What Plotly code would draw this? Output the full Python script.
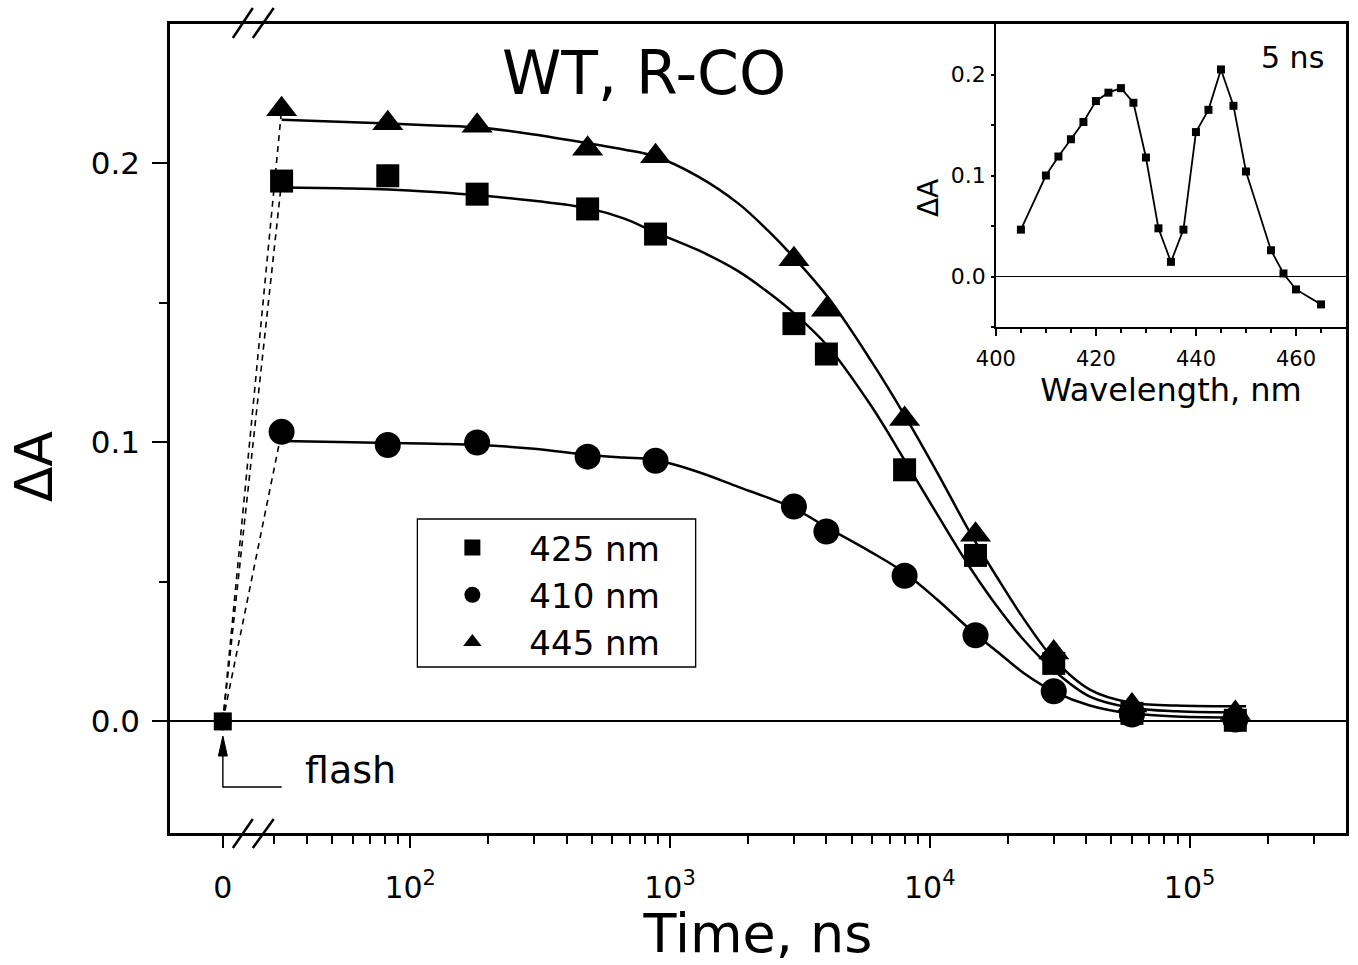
import math
import plotly.graph_objects as go

# ---------------- data ----------------
time_ns = [0, 32, 82, 181, 482, 880, 3000, 4000, 8000, 15000, 30000, 60000, 150000]
dA_425 = [0.0, 0.1937, 0.1956, 0.1890, 0.1837, 0.1747, 0.1426, 0.1317, 0.0902, 0.0595, 0.0208, 0.0029, 0.0004]
dA_410 = [0.0, 0.1038, 0.0991, 0.1000, 0.0949, 0.0934, 0.0770, 0.0681, 0.0522, 0.0309, 0.0108, 0.0025, 0.0007]
dA_445 = [0.0, 0.2194, 0.2144, 0.2135, 0.2053, 0.2026, 0.1657, 0.1476, 0.1084, 0.0669, 0.0247, 0.0057, 0.0030]

fit_time_ns = [32, 53, 83, 124, 184, 300, 486, 663, 880, 1285, 1830, 2380, 2970, 4050, 5920,
               7990, 10700, 14300, 18200, 23100, 30100, 41300, 58800, 89100, 165000]
fit_425 = [0.1914, 0.1911, 0.1907, 0.1898, 0.1886, 0.1866, 0.1839, 0.1803, 0.1753, 0.1689,
           0.1614, 0.1539, 0.1467, 0.1345, 0.1134, 0.0937, 0.0741, 0.0551, 0.0411, 0.0290,
           0.0182, 0.0089, 0.0050, 0.0036, 0.0032]
fit_410 = [0.1005, 0.1002, 0.0998, 0.0995, 0.0991, 0.0977, 0.0955, 0.0946, 0.0937, 0.0894,
           0.0841, 0.0802, 0.0766, 0.0694, 0.0608, 0.0533, 0.0436, 0.0329, 0.0250, 0.0172,
           0.0107, 0.0057, 0.0029, 0.0018, 0.0014]
fit_445 = [0.2157, 0.2150, 0.2143, 0.2136, 0.2129, 0.2104, 0.2072, 0.2050, 0.2025, 0.1953,
           0.1857, 0.1760, 0.1667, 0.1521, 0.1295, 0.1098, 0.0891, 0.0676, 0.0515, 0.0365,
           0.0222, 0.0114, 0.0068, 0.0057, 0.0054]

series_names = ["425 nm", "410 nm", "445 nm"]

inset_wavelength_nm = [405, 410, 412.5, 415, 417.5, 420, 422.5, 425, 427.5, 430, 432.5, 435,
                       437.5, 440, 442.5, 445, 447.5, 450, 455, 457.5, 460, 465]
inset_dA = [0.0464, 0.100, 0.1188, 0.1359, 0.153, 0.1737, 0.182, 0.1865, 0.172, 0.1178, 0.0477,
            0.0145, 0.0464, 0.143, 0.165, 0.205, 0.169, 0.104, 0.026, 0.003, -0.0128, -0.0276]

x_major_ticks = [0, 100, 1000, 10000, 100000]
x_major_labels = ["0", "10<sup>2</sup>", "10<sup>3</sup>", "10<sup>4</sup>", "10<sup>5</sup>"]
x_minor_ticks = [30, 40, 50, 60, 70, 80, 90,
                 200, 300, 400, 500, 600, 700, 800, 900,
                 2000, 3000, 4000, 5000, 6000, 7000, 8000, 9000,
                 20000, 30000, 40000, 50000, 60000, 70000, 80000, 90000,
                 200000, 300000]
y_major_ticks = [0.0, 0.1, 0.2]
y_major_labels = ["0.0", "0.1", "0.2"]
y_minor_ticks = [0.05, 0.15]

inset_x_ticks = [400, 420, 440, 460]
inset_x_minor = [405, 410, 415, 425, 430, 435, 445, 450, 455, 465]
inset_y_ticks = [0.0, 0.1, 0.2]
inset_y_labels = ["0.0", "0.1", "0.2"]
inset_y_minor = [-0.05, 0.05, 0.15]

# ---------------- layout constants ----------------
W, H = 1358, 965
PL, PR, PT, PB = 170, 1349, 24, 833          # plot area in px
ZERO_DRAW_AT = 19.0                          # where t = 0 sits on the broken log axis
FONT = "DejaVu Sans"


def tpos(t):
    return ZERO_DRAW_AT if t == 0 else t


def xp(px):
    return (px - PL) / (PR - PL)


def yp(py):
    return (PB - py) / (PB - PT)


fig = go.Figure()

# fit curves
for fit in (fit_425, fit_410, fit_445):
    fig.add_trace(go.Scatter(x=fit_time_ns, y=fit, mode="lines",
                             line=dict(color="black", width=2.5, shape="spline", smoothing=1.0),
                             showlegend=False, hoverinfo="skip"))

# dashed lines from the flash (t = 0) to the first point
for vals in (dA_425, dA_410, dA_445):
    fig.add_trace(go.Scatter(x=[tpos(time_ns[0]), tpos(time_ns[1])], y=[vals[0], vals[1]],
                             mode="lines", line=dict(color="black", width=1.6, dash="6px,5px"),
                             showlegend=False, hoverinfo="skip"))

# data markers
symbols = ["square", "circle", "triangle-up"]
sizes = [23, 26, 27]
for vals, i in [(dA_425, 0), (dA_410, 1), (dA_445, 2)]:
    fig.add_trace(go.Scatter(x=[tpos(t) for t in time_ns[1:]], y=vals[1:], mode="markers",
                             name=series_names[i],
                             marker=dict(symbol=symbols[i], size=sizes[i], color="black",
                                         line=dict(width=0)),
                             showlegend=True))

# zero points at the flash
for vals, i, s in [(dA_445, 2, 14), (dA_410, 1, 18), (dA_425, 0, 18)]:
    fig.add_trace(go.Scatter(x=[tpos(time_ns[0])], y=[vals[0]], mode="markers",
                             marker=dict(symbol=symbols[i], size=s, color="black", line=dict(width=0)),
                             showlegend=False, hoverinfo="skip"))

# inset spectrum
fig.add_trace(go.Scatter(x=inset_wavelength_nm, y=inset_dA, mode="lines+markers", xaxis="x2", yaxis="y2",
                         line=dict(color="black", width=1.8),
                         marker=dict(symbol="square", size=8, color="black"),
                         showlegend=False))

axis_line = dict(showline=True, linecolor="black", showgrid=False)

fig.update_layout(
    width=W, height=H,
    margin=dict(l=PL, r=W - PR, t=PT, b=H - PB, pad=0),
    paper_bgcolor="white", plot_bgcolor="white",
    font=dict(family=FONT, color="black"),
    xaxis=dict(
        type="log", range=[math.log10(11.9), math.log10(4e5)], domain=[0, 1],
        tickmode="array", tickvals=[tpos(t) for t in x_major_ticks], ticktext=x_major_labels,
        ticks="outside", ticklen=12, tickwidth=2, tickcolor="black",
        tickfont=dict(size=30, family=FONT), ticklabelstandoff=14,
        minor=dict(tickvals=x_minor_ticks, ticks="outside", ticklen=8, tickwidth=2,
                   tickcolor="black", showgrid=False),
        linewidth=2.5, mirror=True, zeroline=False, **axis_line,
        title=dict(text="Time, ns", font=dict(size=54, family=FONT), standoff=12),
    ),
    yaxis=dict(
        range=[-0.04, 0.25], domain=[0, 1],
        tickmode="array", tickvals=y_major_ticks, ticktext=y_major_labels,
        ticks="outside", ticklen=15, tickwidth=2, tickcolor="black",
        tickfont=dict(size=31, family=FONT), ticklabelstandoff=6,
        minor=dict(tickvals=y_minor_ticks, ticks="outside", ticklen=8, tickwidth=2,
                   tickcolor="black", showgrid=False),
        linewidth=2.5, mirror=True,
        zeroline=True, zerolinecolor="black", zerolinewidth=2,
        **axis_line,
    ),
    xaxis2=dict(
        domain=[xp(998), 1.0], anchor="y2", range=[400, 470],
        tickmode="array", tickvals=inset_x_ticks,
        ticks="outside", ticklen=7, tickwidth=1.5, tickcolor="black",
        tickfont=dict(size=21, family=FONT), ticklabelstandoff=5,
        minor=dict(tickvals=inset_x_minor, ticks="outside", ticklen=4, tickwidth=1.5,
                   tickcolor="black", showgrid=False),
        linewidth=1.5, zeroline=False, **axis_line,
        title=dict(text="Wavelength, nm", font=dict(size=32, family=FONT), standoff=4),
    ),
    yaxis2=dict(
        domain=[yp(327), 1.0], anchor="x2", range=[-0.05, 0.25],
        tickmode="array", tickvals=inset_y_ticks, ticktext=inset_y_labels,
        ticks="outside", ticklen=3, tickwidth=1.5, tickcolor="black",
        tickfont=dict(size=22, family=FONT), ticklabelstandoff=1,
        minor=dict(tickvals=inset_y_minor, ticks="outside", ticklen=3, tickwidth=1.5,
                   tickcolor="black", showgrid=False),
        linewidth=1.5,
        zeroline=True, zerolinecolor="black", zerolinewidth=1.2,
        **axis_line,
    ),
    legend=dict(
        x=xp(416), y=yp(519), xanchor="left", yanchor="top",
        borderwidth=0, bgcolor="rgba(0,0,0,0)",
        font=dict(size=34, family=FONT), itemwidth=104,
        traceorder="normal",
    ),
)

# axis titles placed like the original
fig.add_annotation(text="ΔA", x=xp(34), y=yp(466), xref="paper", yref="paper", textangle=-90,
                   xanchor="center", yanchor="middle", showarrow=False, font=dict(size=52, family=FONT))
fig.add_annotation(text="ΔA", x=xp(930), y=yp(198), xref="paper", yref="paper", textangle=-90,
                   xanchor="center", yanchor="middle", showarrow=False, font=dict(size=28, family=FONT))
# texts
fig.add_annotation(text="WT, R-CO", x=xp(645), y=yp(73), xref="paper", yref="paper",
                   xanchor="center", yanchor="middle", showarrow=False, font=dict(size=60, family=FONT))
fig.add_annotation(text="5 ns", x=xp(1295), y=yp(58), xref="paper", yref="paper",
                   xanchor="center", yanchor="middle", showarrow=False, font=dict(size=30, family=FONT))
fig.add_annotation(text="flash", x=xp(303), y=yp(770), xref="paper", yref="paper",
                   xanchor="left", yanchor="middle", showarrow=False, font=dict(size=38, family=FONT))

# flash arrow: L-shaped line with an arrowhead
fig.add_shape(type="path", xref="paper", yref="paper",
              path=f"M {xp(282)},{yp(787)} L {xp(223)},{yp(787)} L {xp(223)},{yp(752)}",
              line=dict(color="black", width=1.4))
fig.add_shape(type="path", xref="paper", yref="paper",
              path=f"M {xp(223)},{yp(736)} L {xp(227.5)},{yp(756)} L {xp(218.5)},{yp(756)} Z",
              fillcolor="black", line=dict(color="black", width=1))

# legend frame
fig.add_shape(type="rect", xref="paper", yref="paper", x0=xp(418), y0=yp(519), x1=xp(697), y1=yp(667),
              line=dict(color="black", width=1.3), layer="above")

# axis break marks
for (x0, y0, x1, y1) in [(233, 38, 253, 8), (253, 38, 274, 8), (233, 848, 253, 819), (253, 848, 274, 819)]:
    fig.add_shape(type="line", xref="paper", yref="paper", x0=xp(x0), y0=yp(y0), x1=xp(x1), y1=yp(y1),
                  line=dict(color="black", width=2.5))

fig.write_html("out.html", config={"displayModeBar": False},
               post_script="document.body.style.margin='0px';")
